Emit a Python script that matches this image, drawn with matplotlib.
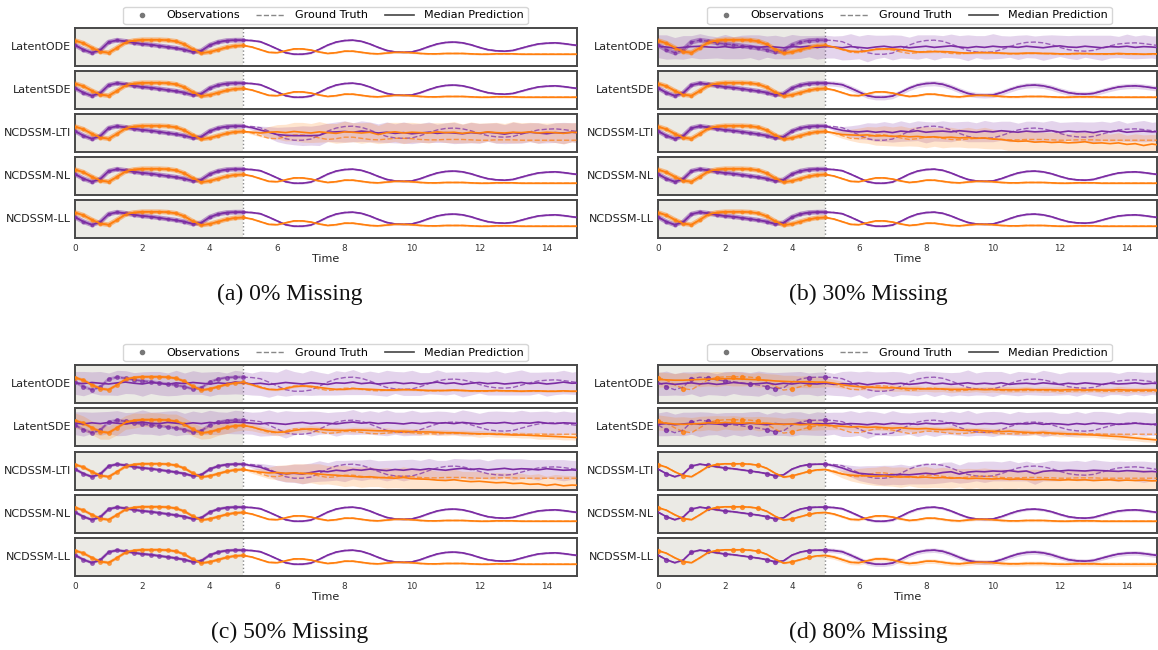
import numpy as np
import matplotlib
matplotlib.use("Agg")
import matplotlib.pyplot as plt
from matplotlib.lines import Line2D

# ---------------- data ----------------
T = np.arange(61) * 0.25          # time grid 0 .. 15
N_CTX = 21                        # context part: t = 0 .. 5

GT_P = [0.55, 0.43, 0.35, 0.42, 0.63, 0.68, 0.65, 0.61, 0.58, 0.56,
        0.53, 0.50, 0.47, 0.43, 0.37, 0.40, 0.55, 0.63, 0.67, 0.68,
        0.68, 0.67, 0.64, 0.55, 0.45, 0.35, 0.31, 0.31, 0.34, 0.44,
        0.55, 0.63, 0.67, 0.68, 0.65, 0.58, 0.49, 0.41, 0.37, 0.36,
        0.37, 0.43, 0.51, 0.58, 0.62, 0.63, 0.61, 0.56, 0.49, 0.43,
        0.40, 0.39, 0.41, 0.47, 0.53, 0.58, 0.60, 0.61, 0.59, 0.56,
        0.53]
GT_O = [0.67, 0.60, 0.48, 0.38, 0.35, 0.48, 0.62, 0.67, 0.69, 0.69,
        0.69, 0.68, 0.65, 0.57, 0.44, 0.34, 0.37, 0.43, 0.49, 0.53,
        0.54, 0.50, 0.43, 0.36, 0.35, 0.40, 0.45, 0.45, 0.42, 0.37,
        0.33, 0.35, 0.39, 0.39, 0.36, 0.33, 0.32, 0.34, 0.36, 0.36,
        0.35, 0.33, 0.32, 0.32, 0.33, 0.33, 0.33, 0.32, 0.31, 0.31,
        0.32, 0.32, 0.32, 0.31, 0.31, 0.31, 0.31, 0.31, 0.31, 0.31,
        0.31]

MODELS = ["LatentODE", "LatentSDE", "NCDSSM-LTI", "NCDSSM-NL", "NCDSSM-LL"]
CAPTIONS = ["(a) 0% Missing", "(b) 30% Missing", "(c) 50% Missing", "(d) 80% Missing"]
XTICKS = [0, 2, 4, 6, 8, 10, 12, 14]

# observation indices kept at 80% missing
OBS80_P = [1, 4, 6, 8, 11, 13, 14, 18, 20]
OBS80_O = [0, 3, 7, 9, 10, 12, 16, 18]

# wide, jagged uncertainty half-widths
W_JAG = [0.30, 0.32, 0.28, 0.31, 0.29, 0.33, 0.30, 0.28, 0.32, 0.29,
         0.31, 0.30, 0.33, 0.28, 0.31, 0.29, 0.32, 0.30, 0.28, 0.31,
         0.30, 0.29, 0.32, 0.34, 0.30, 0.36, 0.31, 0.29, 0.33, 0.30,
         0.28, 0.32, 0.30, 0.33, 0.29, 0.31, 0.30, 0.34, 0.29, 0.31,
         0.33, 0.30, 0.28, 0.32, 0.30, 0.29, 0.33, 0.31, 0.28, 0.30,
         0.32, 0.29, 0.31, 0.33, 0.30, 0.28, 0.32, 0.30, 0.31, 0.29,
         0.32]
W_MED = [0.20, 0.19, 0.18, 0.20, 0.17, 0.19, 0.18, 0.20, 0.17, 0.19,
         0.18, 0.16, 0.19, 0.17, 0.18, 0.16, 0.17, 0.15, 0.16, 0.14,
         0.12, 0.10, 0.09, 0.08, 0.09, 0.07, 0.08, 0.07, 0.09, 0.08,
         0.07, 0.08, 0.06, 0.08, 0.07, 0.09, 0.07, 0.08, 0.06, 0.08,
         0.07, 0.09, 0.08, 0.07, 0.08, 0.06, 0.08, 0.07, 0.09, 0.07,
         0.08, 0.07, 0.06, 0.08, 0.07, 0.09, 0.08, 0.07, 0.08, 0.07,
         0.08]
W_GROW = [0.02, 0.06, 0.10, 0.15, 0.19, 0.22, 0.24, 0.26, 0.25, 0.27,
          0.24, 0.26, 0.28, 0.25, 0.27, 0.26, 0.24, 0.27, 0.25, 0.28,
          0.26, 0.25, 0.27, 0.24, 0.26, 0.28, 0.25, 0.27, 0.26, 0.24,
          0.27, 0.25, 0.28, 0.26, 0.25, 0.27, 0.24, 0.26, 0.28, 0.25,
          0.27]

# median predictions of the failing models (61 = full range, 41 = forecast t>=5)
ODE_B_P = [0.52, 0.50, 0.47, 0.49, 0.51, 0.52, 0.50, 0.49, 0.51, 0.48,
           0.50, 0.52, 0.49, 0.51, 0.50, 0.48, 0.51, 0.50, 0.52, 0.49,
           0.51, 0.50, 0.48, 0.51, 0.49, 0.47, 0.50, 0.52, 0.49, 0.51,
           0.48, 0.50, 0.52, 0.49, 0.51, 0.53, 0.50, 0.48, 0.51, 0.49,
           0.52, 0.50, 0.51, 0.49, 0.52, 0.50, 0.48, 0.51, 0.53, 0.50,
           0.49, 0.52, 0.50, 0.48, 0.51, 0.50, 0.52, 0.49, 0.51, 0.50,
           0.48]
ODE_B_O = [0.54, 0.50, 0.44, 0.39, 0.38, 0.40, 0.44, 0.45, 0.45, 0.43,
           0.40, 0.37, 0.37, 0.38, 0.38, 0.37, 0.35, 0.34, 0.35, 0.35,
           0.35, 0.34, 0.33, 0.33, 0.34, 0.34, 0.33, 0.33, 0.32, 0.32,
           0.33, 0.33, 0.32, 0.32, 0.32, 0.33, 0.32, 0.32, 0.31, 0.32,
           0.32]
ODE_C_P = [0.53, 0.51, 0.54, 0.52, 0.50, 0.53, 0.55, 0.52, 0.50, 0.54,
           0.52, 0.49, 0.53, 0.51, 0.54, 0.52, 0.50, 0.53, 0.51, 0.55,
           0.53, 0.50, 0.52, 0.49, 0.51, 0.54, 0.52, 0.50, 0.53, 0.51,
           0.49, 0.53, 0.52, 0.55, 0.51, 0.53, 0.50, 0.52, 0.54, 0.51,
           0.53, 0.50, 0.52, 0.55, 0.51, 0.53, 0.49, 0.52, 0.54, 0.51,
           0.53, 0.50, 0.52, 0.54, 0.51, 0.53, 0.50, 0.52, 0.55, 0.52,
           0.53]
ODE_C_O = [0.54, 0.48, 0.41, 0.36, 0.35, 0.38, 0.43, 0.45, 0.44, 0.41,
           0.38, 0.36, 0.36, 0.38, 0.37, 0.36, 0.35, 0.34, 0.34, 0.35,
           0.35, 0.34, 0.33, 0.33, 0.33, 0.34, 0.33, 0.32, 0.32, 0.32,
           0.33, 0.32, 0.32, 0.31, 0.32, 0.32, 0.31, 0.31, 0.32, 0.31,
           0.31]
ODE_D_P = [0.50, 0.52, 0.49, 0.51, 0.53, 0.50, 0.52, 0.49, 0.51, 0.54,
           0.52, 0.50, 0.51, 0.53, 0.49, 0.52, 0.50, 0.53, 0.51, 0.50,
           0.52, 0.49, 0.51, 0.50, 0.52, 0.48, 0.51, 0.53, 0.50, 0.52,
           0.49, 0.51, 0.54, 0.50, 0.52, 0.49, 0.51, 0.53, 0.50, 0.52,
           0.50, 0.53, 0.49, 0.51, 0.52, 0.50, 0.53, 0.51, 0.49, 0.52,
           0.50, 0.53, 0.51, 0.49, 0.52, 0.50, 0.51, 0.53, 0.50, 0.52,
           0.51]
ODE_D_O = [0.62, 0.61, 0.60, 0.60, 0.61, 0.62, 0.63, 0.63, 0.64, 0.64,
           0.63, 0.62, 0.61, 0.60, 0.58, 0.57, 0.56, 0.56, 0.56, 0.55,
           0.55, 0.52, 0.48, 0.45, 0.43, 0.42, 0.41, 0.40, 0.40, 0.39,
           0.38, 0.38, 0.37, 0.37, 0.37, 0.36, 0.36, 0.36, 0.36, 0.35,
           0.36, 0.35, 0.35, 0.35, 0.36, 0.35, 0.35, 0.35, 0.34, 0.35,
           0.35, 0.34, 0.35, 0.34, 0.34, 0.35, 0.34, 0.34, 0.34, 0.34,
           0.34]
SDE_C_P = [0.60, 0.58, 0.61, 0.59, 0.62, 0.60, 0.58, 0.61, 0.63, 0.60,
           0.59, 0.62, 0.60, 0.58, 0.61, 0.59, 0.62, 0.60, 0.61, 0.63,
           0.62, 0.60, 0.58, 0.61, 0.59, 0.57, 0.60, 0.62, 0.59, 0.61,
           0.60, 0.58, 0.61, 0.63, 0.60, 0.62, 0.59, 0.61, 0.60, 0.58,
           0.61, 0.59, 0.62, 0.60, 0.61, 0.59, 0.62, 0.60, 0.58, 0.61,
           0.60, 0.62, 0.59, 0.61, 0.60, 0.63, 0.60, 0.59, 0.61, 0.60,
           0.59]
SDE_C_O = [0.54, 0.50, 0.44, 0.39, 0.36, 0.37, 0.41, 0.44, 0.45, 0.44,
           0.42, 0.41, 0.41, 0.42, 0.42, 0.41, 0.40, 0.40, 0.39, 0.39,
           0.38, 0.37, 0.37, 0.36, 0.35, 0.35, 0.34, 0.33, 0.32, 0.32,
           0.31, 0.30, 0.29, 0.29, 0.28, 0.27, 0.26, 0.25, 0.24, 0.23,
           0.22]
SDE_D_P = [0.57, 0.59, 0.56, 0.58, 0.60, 0.57, 0.59, 0.58, 0.56, 0.59,
           0.57, 0.60, 0.58, 0.56, 0.59, 0.57, 0.58, 0.60, 0.57, 0.59,
           0.58, 0.60, 0.57, 0.59, 0.58, 0.56, 0.59, 0.57, 0.60, 0.58,
           0.59, 0.57, 0.60, 0.58, 0.59, 0.61, 0.58, 0.60, 0.57, 0.59,
           0.58, 0.60, 0.57, 0.59, 0.58, 0.60, 0.57, 0.59, 0.58, 0.56,
           0.59, 0.57, 0.60, 0.58, 0.59, 0.57, 0.58, 0.60, 0.58, 0.57,
           0.59]
SDE_D_O = [0.62, 0.60, 0.58, 0.57, 0.58, 0.59, 0.61, 0.60, 0.62, 0.61,
           0.60, 0.61, 0.59, 0.60, 0.58, 0.57, 0.58, 0.56, 0.57, 0.56,
           0.55, 0.53, 0.52, 0.50, 0.51, 0.49, 0.50, 0.48, 0.47, 0.48,
           0.46, 0.45, 0.46, 0.44, 0.43, 0.44, 0.42, 0.41, 0.42, 0.40,
           0.39, 0.38, 0.39, 0.37, 0.36, 0.35, 0.36, 0.34, 0.33, 0.32,
           0.31, 0.30, 0.29, 0.28, 0.26, 0.25, 0.23, 0.21, 0.19, 0.17,
           0.15]
LTI_A_P = [0.68, 0.64, 0.58, 0.52, 0.46, 0.44, 0.43, 0.43, 0.43, 0.44,
           0.52, 0.53, 0.54, 0.52, 0.55, 0.53, 0.50, 0.52, 0.49, 0.51,
           0.48, 0.50, 0.52, 0.49, 0.51, 0.50, 0.48, 0.51, 0.49, 0.52,
           0.50, 0.47, 0.51, 0.49, 0.52, 0.50, 0.48, 0.51, 0.50, 0.52,
           0.50]
LTI_A_O = [0.54, 0.52, 0.50, 0.52, 0.53, 0.51, 0.54, 0.52, 0.50, 0.53,
           0.51, 0.49, 0.53, 0.52, 0.50, 0.52, 0.46, 0.51, 0.53, 0.50,
           0.52, 0.51, 0.50, 0.53, 0.51, 0.52, 0.49, 0.52, 0.50, 0.53,
           0.51, 0.50, 0.52, 0.51, 0.53, 0.50, 0.52, 0.51, 0.49, 0.52,
           0.51]
LTI_B_P = [0.68, 0.62, 0.57, 0.54, 0.53, 0.55, 0.52, 0.54, 0.51, 0.55,
           0.53, 0.56, 0.52, 0.54, 0.55, 0.53, 0.56, 0.54, 0.52, 0.55,
           0.53, 0.56, 0.54, 0.52, 0.55, 0.53, 0.54, 0.56, 0.52, 0.55,
           0.53, 0.54, 0.51, 0.55, 0.53, 0.56, 0.52, 0.54, 0.55, 0.53,
           0.54]
LTI_B_O = [0.54, 0.50, 0.46, 0.45, 0.44, 0.45, 0.42, 0.43, 0.41, 0.42,
           0.40, 0.41, 0.39, 0.40, 0.38, 0.39, 0.37, 0.38, 0.36, 0.37,
           0.34, 0.33, 0.30, 0.28, 0.29, 0.26, 0.27, 0.25, 0.26, 0.24,
           0.25, 0.27, 0.23, 0.24, 0.22, 0.24, 0.20, 0.22, 0.17, 0.21,
           0.18]
LTI_C_P = [0.68, 0.64, 0.60, 0.52, 0.45, 0.43, 0.44, 0.42, 0.46, 0.50,
           0.48, 0.52, 0.50, 0.54, 0.52, 0.55, 0.53, 0.51, 0.54, 0.52,
           0.55, 0.53, 0.56, 0.54, 0.52, 0.55, 0.57, 0.54, 0.56, 0.53,
           0.55, 0.57, 0.54, 0.56, 0.55, 0.53, 0.56, 0.54, 0.52, 0.53,
           0.51]
LTI_C_O = [0.54, 0.50, 0.47, 0.45, 0.46, 0.44, 0.45, 0.43, 0.44, 0.42,
           0.40, 0.39, 0.37, 0.36, 0.34, 0.35, 0.33, 0.32, 0.31, 0.33,
           0.30, 0.29, 0.28, 0.26, 0.25, 0.27, 0.24, 0.22, 0.23, 0.21,
           0.19, 0.20, 0.17, 0.18, 0.15, 0.16, 0.12, 0.15, 0.11, 0.13,
           0.12]
LTI_D_P = [0.68, 0.64, 0.58, 0.50, 0.44, 0.42, 0.40, 0.39, 0.40, 0.41,
           0.40, 0.42, 0.44, 0.42, 0.46, 0.48, 0.42, 0.47, 0.49, 0.48,
           0.50, 0.49, 0.51, 0.48, 0.50, 0.43, 0.49, 0.51, 0.50, 0.52,
           0.51, 0.50, 0.52, 0.51, 0.50, 0.49, 0.51, 0.50, 0.48, 0.49,
           0.47]
LTI_D_O = [0.54, 0.48, 0.42, 0.39, 0.38, 0.37, 0.36, 0.37, 0.35, 0.34,
           0.35, 0.33, 0.34, 0.32, 0.33, 0.31, 0.32, 0.30, 0.31, 0.30,
           0.29, 0.30, 0.28, 0.29, 0.28, 0.27, 0.28, 0.27, 0.26, 0.27,
           0.26, 0.27, 0.25, 0.26, 0.27, 0.25, 0.26, 0.25, 0.26, 0.24,
           0.25]

# (panel, model) -> (purple median, orange median, purple width, orange width)
OVERRIDES = {
    (0, 2): (LTI_A_P, LTI_A_O, W_GROW, W_GROW),
    (1, 0): (ODE_B_P, ODE_B_O, W_JAG, 0.03),
    (1, 1): (None, None, 0.07, 0.03),
    (1, 2): (LTI_B_P, LTI_B_O, W_GROW, W_GROW),
    (2, 0): (ODE_C_P, ODE_C_O, W_JAG, 0.03),
    (2, 1): (SDE_C_P, SDE_C_O, W_JAG, W_MED),
    (2, 2): (LTI_C_P, LTI_C_O, W_GROW, W_GROW),
    (3, 0): (ODE_D_P, ODE_D_O, W_JAG, W_MED),
    (3, 1): (SDE_D_P, SDE_D_O, W_JAG, W_MED),
    (3, 2): (LTI_D_P, LTI_D_O, W_GROW, W_GROW),
    (3, 3): (None, None, 0.035, 0.035),
    (3, 4): (None, None, 0.06, 0.06),
}

# ---------------- style ----------------
PURPLE = "#7b2ca3"
ORANGE = "#ff7f0e"
CTX_BG = "#ebeae5"
SPINE = "#484848"
W, H = 1158, 650

fig = plt.figure(figsize=(W / 100, H / 100), dpi=100)

PANEL_X = [(75, 577), (658, 1157)]
ROWS_TOP = [(28, 66), (71, 109), (114, 152), (157, 195), (200, 238)]
ROWS_BOT = [(365, 403), (408, 446), (452, 490), (495, 533), (538, 576)]


def as_full(vals, gt):
    if vals is None:
        return np.asarray(gt, float)
    vals = np.asarray(vals, float)
    if vals.size == 61:
        return vals
    return np.concatenate([np.asarray(gt[:N_CTX - 1], float), vals])


def as_width(w, base=0.025):
    if np.isscalar(w):
        out = np.full(61, base)
        out[N_CTX - 1:] = w
        return out
    w = np.asarray(w, float)
    if w.size == 61:
        return w
    return np.concatenate([np.full(N_CTX - 1, base), w])


def fig_axes(x0, x1, y0, y1):
    return fig.add_axes([x0 / W, 1 - y1 / H, (x1 - x0) / W, (y1 - y0) / H])


for p in range(4):
    xs = PANEL_X[p % 2]
    rows = ROWS_TOP if p < 2 else ROWS_BOT
    for m, name in enumerate(MODELS):
        ax = fig_axes(xs[0], xs[1], rows[m][0], rows[m][1])
        ax.axvspan(0, 5, color=CTX_BG, zorder=0, lw=0)
        ax.axvline(5, color="#888888", ls=":", lw=1.0, zorder=1)
        ov = OVERRIDES.get((p, m), (None, None, 0.025, 0.025))
        for gt, med, wid, col, obs80 in ((GT_P, ov[0], ov[2], PURPLE, OBS80_P),
                                         (GT_O, ov[1], ov[3], ORANGE, OBS80_O)):
            gt_a = np.asarray(gt, float)
            med_a = as_full(med, gt)
            w_a = as_width(wid)
            ax.fill_between(T, med_a - w_a, med_a + w_a, color=col, alpha=0.2, lw=0, zorder=2)
            # observations (context window only)
            tc, yc = T[:N_CTX], gt_a[:N_CTX]
            if p in (0, 1):
                ax.plot(tc, yc, color=col, lw=3.4, alpha=0.45, zorder=3, solid_capstyle="round")
                ax.plot(tc, yc, ls="", marker="o", ms=2.0, color=col, alpha=0.6, zorder=3)
            elif p == 2:
                ax.plot(tc, yc, color=col, lw=2.2, alpha=0.35, zorder=3)
                ax.plot(tc, yc, ls="", marker="o", ms=2.6, color=col, alpha=0.6, zorder=3)
            else:
                ax.plot(T[obs80], gt_a[obs80], ls="", marker="o", ms=2.8, color=col,
                        alpha=0.75, zorder=3)
            ax.plot(T, gt_a, ls="--", color=col, lw=1.0, alpha=0.7, zorder=4)
            ax.plot(T, med_a, color=col, lw=1.2, zorder=5)
        ax.set_xlim(0, 14.9)
        ax.set_ylim(0, 1)
        ax.set_yticks([])
        for s in ax.spines.values():
            s.set_color(SPINE)
            s.set_linewidth(1.4)
        ax.text(-0.008, 0.5, name, transform=ax.transAxes, ha="right", va="center",
                fontsize=8, color="#222222")
        if m == 4:
            ax.set_xticks(XTICKS)
            ax.tick_params(axis="x", length=0, labelsize=6.4, colors="#333333", pad=4)
            ax.set_xlabel("Time", fontsize=8, color="#222222", labelpad=1)
        else:
            ax.set_xticks([])

    # legend
    handles = [Line2D([], [], ls="", marker="o", ms=3, color="#777777"),
               Line2D([], [], ls="--", lw=1.0, color="#888888"),
               Line2D([], [], ls="-", lw=1.2, color="#444444")]
    labels = ["Observations", "Ground Truth", "Median Prediction"]
    cx = 325.5 if p % 2 == 0 else 909.5
    cy = 15.5 if p < 2 else 352.5
    fig.legend(handles, labels, loc="center", bbox_to_anchor=(cx / W, 1 - cy / H),
               ncol=3, fontsize=8, frameon=True, handlelength=2.6, columnspacing=1.5,
               handletextpad=0.9, borderpad=0.35, edgecolor="#cccccc", fancybox=True)

    # caption
    capx = 290 if p % 2 == 0 else 868
    capy = 294 if p < 2 else 632
    fig.text(capx / W, 1 - capy / H, CAPTIONS[p], ha="center", va="center",
             fontsize=17, family="Liberation Serif", color="#111111")

fig.savefig("out.png", dpi=100, facecolor="white")
